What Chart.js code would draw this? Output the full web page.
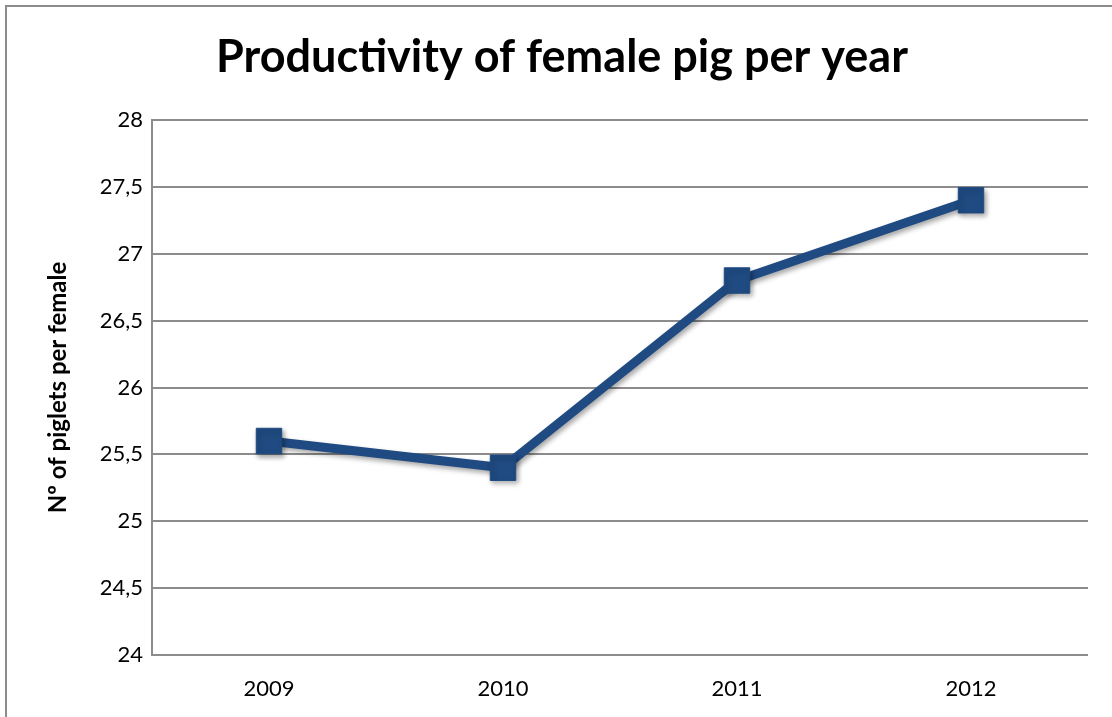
<!DOCTYPE html>
<html>
<head>
<meta charset="utf-8">
<title>Productivity of female pig per year</title>
<script src="https://cdn.jsdelivr.net/npm/chart.js@4"></script>
<style>
  html, body { margin: 0; padding: 0; background: #fff; overflow: hidden; }
  #wrap { position: relative; width: 1112px; height: 717px; }
  #frame {
    position: absolute; left: 5px; top: 5px; width: 1200px; height: 800px;
    border: 2px solid #8c8c8c; box-sizing: border-box; pointer-events: none;
  }
  canvas { position: absolute; left: 0; top: 0; }
</style>
</head>
<body>
<div id="wrap">
  <canvas id="pigChart" width="1112" height="717"></canvas>
  <div id="frame"></div>
</div>
<script>
var years = ['2009', '2010', '2011', '2012'];
var pigletsPerFemale = [25.6, 25.4, 26.8, 27.4];
var yMin = 24, yMax = 28, yStep = 0.5;

var FONT = 'Lato, "Open Sans", sans-serif';
var LINE_BLUE = '#1f4b82';
var GRID_GREY = '#8c8c8c';

// soft drop shadow under the series, like the office chart style
var markerShadow = {
  id: 'markerShadow',
  beforeDatasetDraw: function (chart) {
    var ctx = chart.ctx;
    ctx.save();
    ctx.shadowColor = 'rgba(0,0,0,0.35)';
    ctx.shadowBlur = 5;
    ctx.shadowOffsetX = 2;
    ctx.shadowOffsetY = 3;
  },
  afterDatasetDraw: function (chart) {
    chart.ctx.restore();
  }
};

var ctx = document.getElementById('pigChart');
var pigChart = new Chart(ctx, {
  type: 'line',
  data: {
    labels: years,
    datasets: [{
      label: 'Nº of piglets per female',
      data: pigletsPerFemale,
      borderColor: LINE_BLUE,
      backgroundColor: LINE_BLUE,
      borderWidth: 9,
      pointStyle: 'rect',
      pointRadius: 18,
      pointBorderWidth: 1,
      pointBorderColor: LINE_BLUE,
      pointBackgroundColor: LINE_BLUE,
      tension: 0,
      fill: false
    }]
  },
  options: {
    responsive: false,
    animation: false,
    layout: {
      padding: { left: 36, right: 24, top: 0, bottom: 0 }
    },
    plugins: {
      legend: { display: false },
      tooltip: { enabled: false },
      title: {
        display: true,
        text: 'Productivity of female pig per year',
        color: '#000',
        font: { family: FONT, size: 45, weight: 'bold', lineHeight: 1.2 },
        padding: { top: 30, bottom: 36 }
      }
    },
    scales: {
      x: {
        offset: true,
        grid: { display: false, drawTicks: false },
        border: { display: false },
        ticks: {
          color: '#000',
          padding: 21,
          font: { family: FONT, size: 22 }
        },
        afterFit: function (scale) { scale.height = 62; }
      },
      y: {
        min: yMin,
        max: yMax,
        grid: {
          color: GRID_GREY,
          lineWidth: 2,
          drawTicks: false
        },
        border: { display: true, color: GRID_GREY, width: 2 },
        ticks: {
          stepSize: yStep,
          color: '#000',
          padding: 9,
          font: { family: FONT, size: 22 },
          callback: function (v) { return String(v).replace('.', ','); }
        },
        title: {
          display: true,
          text: 'Nº of piglets per female',
          color: '#000',
          font: { family: FONT, size: 24, weight: 'bold', lineHeight: 1.2 },
          padding: { top: 8, bottom: 0 }
        },
        afterFit: function (scale) { scale.width = 116; }
      }
    }
  },
  plugins: [markerShadow]
});
</script>
</body>
</html>
